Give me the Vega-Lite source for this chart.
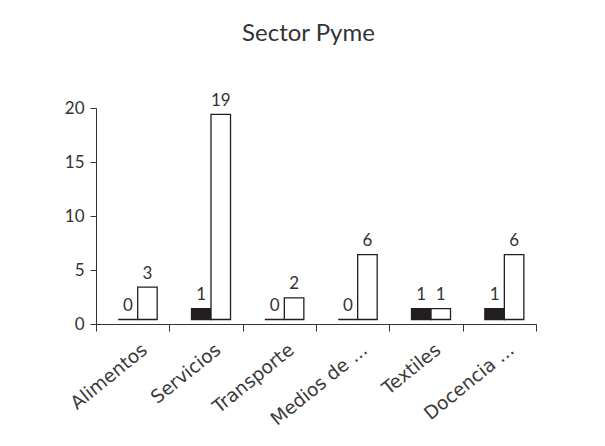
{
  "$schema": "https://vega.github.io/schema/vega-lite/v6.json",
  "width": 440,
  "height": 216,
  "autosize": {"type": "none"},
  "padding": {"left": 96, "top": 108, "right": 69, "bottom": 122},
  "background": "white",
  "title": {"text": "Sector Pyme", "font": "Lato", "fontSize": 24, "fontWeight": "normal", "color": "#333333", "dx": -7.5, "offset": 46},
  "data": {
    "values": [
      {"cat": "Alimentos", "serie": "Serie 1", "v": 0},
      {"cat": "Alimentos", "serie": "Serie 2", "v": 3},
      {"cat": "Servicios", "serie": "Serie 1", "v": 1},
      {"cat": "Servicios", "serie": "Serie 2", "v": 19},
      {"cat": "Transporte", "serie": "Serie 1", "v": 0},
      {"cat": "Transporte", "serie": "Serie 2", "v": 2},
      {"cat": "Medios de ...", "serie": "Serie 1", "v": 0},
      {"cat": "Medios de ...", "serie": "Serie 2", "v": 6},
      {"cat": "Textiles", "serie": "Serie 1", "v": 1},
      {"cat": "Textiles", "serie": "Serie 2", "v": 1},
      {"cat": "Docencia ...", "serie": "Serie 1", "v": 1},
      {"cat": "Docencia ...", "serie": "Serie 2", "v": 6}
    ]
  },
  "encoding": {
    "x": {
      "field": "cat", "type": "nominal", "sort": null,
      "scale": {"paddingInner": 0, "paddingOuter": 0},
      "axis": {"title": null, "labelAngle": -39, "tickBand": "extent", "labelFont": "DejaVu Sans", "labelFontSize": 18.5, "labelColor": "#3a3a3a", "tickSize": 7, "tickColor": "#333333", "domainColor": "#333333", "labelPadding": 9, "labelOffset": 6}
    },
    "xOffset": {"field": "serie", "type": "nominal", "scale": {"paddingInner": 0, "paddingOuter": 0.88, "align": 0.646}},
    "y": {
      "field": "v", "type": "quantitative",
      "scale": {"domain": [0, 20]},
      "axis": {"title": null, "values": [0, 5, 10, 15, 20], "labelFont": "Lato", "labelFontSize": 17, "labelColor": "#333333", "tickSize": 6, "labelPadding": 6, "tickColor": "#333333", "domainColor": "#333333"}
    }
  },
  "layer": [
    {
      "mark": {"type": "bar", "stroke": "#231f20", "strokeWidth": 1.3, "yOffset": -4.5, "y2Offset": -4.5},
      "encoding": {
        "fill": {"field": "serie", "type": "nominal", "scale": {"domain": ["Serie 1", "Serie 2"], "range": ["#231f20", "#ffffff"]}, "legend": null}
      }
    },
    {
      "mark": {"type": "text", "baseline": "alphabetic", "yOffset": -13, "font": "Lato", "fontSize": 17, "color": "#333333"},
      "encoding": {"text": {"field": "v", "type": "quantitative"}}
    }
  ],
  "config": {"view": {"stroke": null}, "axis": {"grid": false}}
}
